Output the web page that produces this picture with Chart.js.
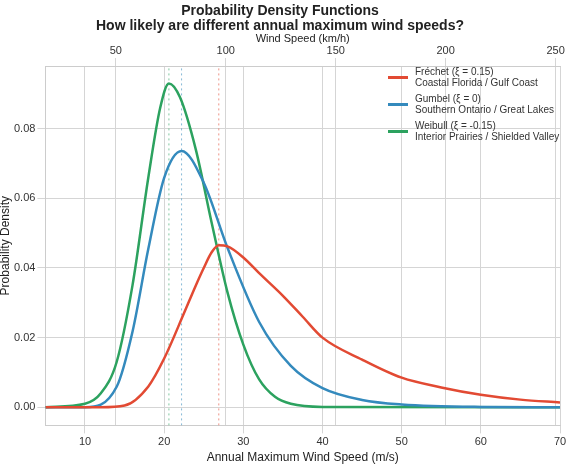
<!DOCTYPE html>
<html>
<head>
<meta charset="utf-8">
<script src="https://cdn.jsdelivr.net/npm/chart.js@4"></script>
<style>
  body { margin: 0; background: #fff; font-family: "Liberation Sans", Arial, sans-serif; }
  #wrap { position: relative; width: 572px; height: 467px; }
  #legend { position: absolute; left: 388px; top: 66px; font-size: 10px; color: #333; line-height: 11px; }
  .item { display: flex; align-items: center; margin-bottom: 5px; }
  .sw { width: 20px; height: 3px; margin-right: 7px; }
</style>
</head>
<body>
<div id="wrap">
  <canvas id="c" width="572" height="467"></canvas>
  <div id="legend">
    <div class="item"><span class="sw" style="background:#e24a33"></span><span>Fréchet (ξ = 0.15)<br>Coastal Florida / Gulf Coast</span></div>
    <div class="item"><span class="sw" style="background:#348abd"></span><span>Gumbel (ξ = 0)<br>Southern Ontario / Great Lakes</span></div>
    <div class="item"><span class="sw" style="background:#2ca25f"></span><span>Weibull (ξ = -0.15)<br>Interior Prairies / Shielded Valley</span></div>
  </div>
</div>
<script>
// valores (m/s, densidad)
const frechetX = [5, 12, 15, 18, 20, 22.5, 24, 25, 26, 26.9, 28, 30, 32, 35, 37.5, 40, 45, 50, 55, 60, 65, 70];
const frechetY = [0, 0, 0.0005, 0.006, 0.014, 0.027, 0.035, 0.040, 0.0445, 0.0465, 0.0462, 0.043, 0.0385, 0.032, 0.026, 0.020, 0.0137, 0.0085, 0.0057, 0.0036, 0.0022, 0.0014];
const gumbelX = [5, 10, 14, 16, 18, 20, 22.2, 25, 28, 32, 36, 40, 45, 50, 60, 70];
const gumbelY = [0, 0, 0.0059, 0.0217, 0.0455, 0.0659, 0.0736, 0.0645, 0.0458, 0.0245, 0.0119, 0.0055, 0.0021, 0.0008, 0.0001, 0];
const weibullX = [5, 10, 12, 14, 16, 18, 19.5, 20.6, 22, 24, 26, 28, 30, 32, 34, 36, 40, 70];
const weibullY = [0, 0.001, 0.004, 0.013, 0.035, 0.066, 0.086, 0.093, 0.089, 0.074, 0.053, 0.033, 0.018, 0.008, 0.003, 0.001, 0.0001, 0];
const modes = [26.9, 22.2, 20.6];
const xTicks = [10, 20, 30, 40, 50, 60, 70];
const kmhTicks = [50, 100, 150, 200, 250];

const pts = (xs, ys) => xs.map((x, i) => ({ x, y: ys[i] }));
const curva = (data, color) => ({ data, borderColor: color, borderWidth: 2.5, pointRadius: 0, cubicInterpolationMode: 'monotone', fill: false });
const linea = (x, color) => ({ data: [{ x, y: -0.0052 }, { x, y: 0.098 }], borderColor: color, borderWidth: 1, borderDash: [2, 3], pointRadius: 0 });

new Chart(document.getElementById('c'), {
  type: 'line',
  data: {
    datasets: [
      curva(pts(frechetX, frechetY), '#e24a33'),
      curva(pts(gumbelX, gumbelY), '#348abd'),
      curva(pts(weibullX, weibullY), '#2ca25f'),
      linea(modes[0], 'rgba(226,74,51,0.6)'),
      linea(modes[1], 'rgba(52,138,189,0.6)'),
      linea(modes[2], 'rgba(44,162,95,0.6)')
    ]
  },
  options: {
    responsive: false,
    animation: false,
    layout: { padding: { right: 12, left: 0, top: 0, bottom: 2 } },
    plugins: {
      legend: { display: false },
      title: { display: true, text: ['Probability Density Functions', 'How likely are different annual maximum wind speeds?'], color: '#222', font: { size: 14, weight: 'bold', family: 'Liberation Sans', lineHeight: 1.1 }, padding: { top: 3, bottom: 0 } }
    },
    scales: {
      x: {
        type: 'linear', min: 5, max: 70,
        afterBuildTicks: ax => { ax.ticks = xTicks.map(v => ({ value: v })); },
        grid: { color: '#d5d5d5' }, border: { color: '#ccc' },
        ticks: { color: '#333', font: { size: 11 }, padding: 2 },
        title: { display: true, text: 'Annual Maximum Wind Speed (m/s)', color: '#222', font: { size: 12 }, padding: 0 }
      },
      x2: {
        type: 'linear', position: 'top', min: 18, max: 252,
        afterBuildTicks: ax => { ax.ticks = kmhTicks.map(v => ({ value: v })); },
        grid: { color: '#d5d5d5' }, border: { color: '#ccc' },
        ticks: { color: '#333', font: { size: 11 }, padding: 0 },
        title: { display: true, text: 'Wind Speed (km/h)', color: '#222', font: { size: 11, lineHeight: 1 }, padding: 0 }
      },
      y: {
        min: -0.0052, max: 0.098,
        afterBuildTicks: ax => { ax.ticks = [0, 0.02, 0.04, 0.06, 0.08].map(v => ({ value: v })); },
        grid: { color: '#d5d5d5' }, border: { color: '#ccc' },
        ticks: { color: '#333', font: { size: 11 }, padding: 2, callback: v => v.toFixed(2) },
        title: { display: true, text: 'Probability Density', color: '#222', font: { size: 12, lineHeight: 1 }, padding: 0 }
      }
    }
  }
});
</script>
</body>
</html>
